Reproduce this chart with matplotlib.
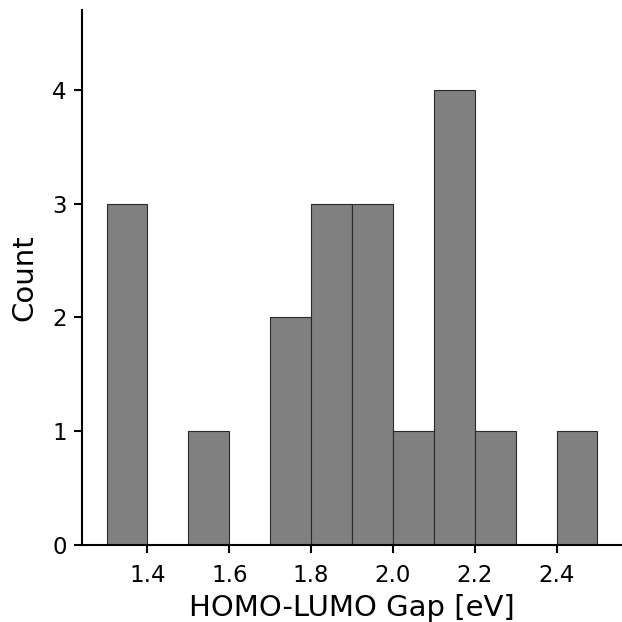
import numpy as np
import matplotlib.pyplot as plt

bin_edges = [1.3, 1.4, 1.5, 1.6, 1.7, 1.8, 1.9, 2.0, 2.1, 2.2, 2.3, 2.4, 2.5]
counts = [3, 0, 1, 0, 2, 3, 3, 1, 4, 1, 0, 1]

fig = plt.figure(figsize=(6.22, 6.22), dpi=100)
ax = fig.add_axes([82 / 622, 77 / 622, 540 / 622, 535 / 622])

ax.hist(bin_edges[:-1], bins=bin_edges, weights=counts,
        color='#808080', edgecolor='#2a2a2a', linewidth=0.8)

ax.set_xlim(1.24, 2.56)
ax.set_ylim(0, 4.7)
ax.set_xticks([1.4, 1.6, 1.8, 2.0, 2.2, 2.4])
ax.set_yticks([0, 1, 2, 3, 4])

ax.spines['top'].set_visible(False)
ax.spines['right'].set_visible(False)
ax.spines['left'].set_linewidth(1.5)
ax.spines['bottom'].set_linewidth(1.5)
ax.tick_params(labelsize=16.5, width=1.5, length=6, pad=5)
ax.tick_params(axis='x', pad=8)

ax.set_xlabel('HOMO-LUMO Gap [eV]', fontsize=21, labelpad=5)
ax.set_ylabel('Count', fontsize=21, labelpad=10)

fig.savefig('out.png', dpi=100)
